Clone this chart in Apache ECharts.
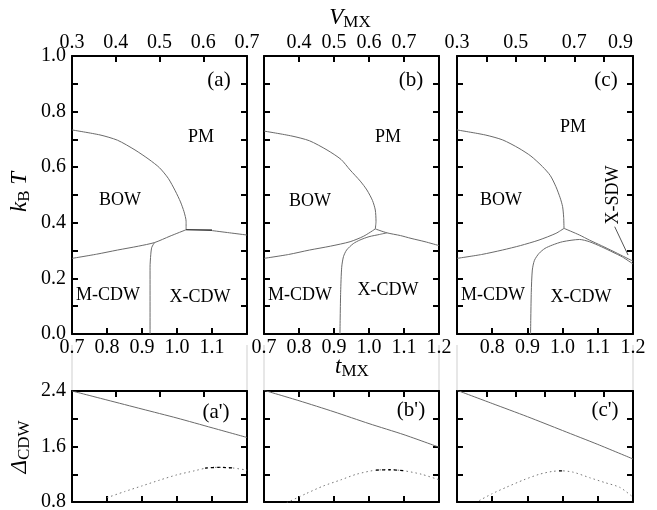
<!DOCTYPE html>
<html><head><meta charset="utf-8">
<script src="https://cdn.jsdelivr.net/npm/echarts@6/dist/echarts.min.js"></script>
<style>html,body{margin:0;padding:0;background:#fff}#c{width:657px;height:510px}</style>
</head><body><div id="c"></div>
<script>
// ---------- axis ranges / tick labels ----------
const tRange = [0.7, 1.2];
const vRanges = [[0.3, 0.7], [0.3, 0.8], [0.3, 0.9]];
const kTRange = [0.0, 1.0];
const gapRange = [0.8, 2.4];
const tLabelShow = [[7, 11], [7, 12], [8, 12]];        // t labels shown (x10)
const vLabelShow = [[3, 4, 5, 6, 7], [4, 5, 6, 7], [3, 5, 7, 9]];
const kTLabels = [0, 2, 4, 6, 8, 10];                   // x10
const gapLabels = [8, 16, 24];                          // x10

// ---------- panel (a) ----------
const a_bowPM = [[0.7,0.734],[0.78,0.716],[0.83,0.697],[0.88,0.662],[0.92,0.628],[0.95,0.598],[0.975,0.56],[0.995,0.515],[1.01,0.475],[1.02,0.44],[1.026,0.405],[1.026,0.375]];
const a_bowMCDW = [[0.7,0.272],[0.77,0.287],[0.83,0.302],[0.89,0.316],[0.936,0.329],[0.98,0.352],[1.026,0.375]];
const a_pmXFirst = [[1.026,0.375],[1.1,0.374]];
const a_pmX = [[1.1,0.372],[1.15,0.364],[1.2,0.356]];
const a_mX = [[0.936,0.329],[0.928,0.312],[0.925,0.285],[0.923,0.24],[0.923,0.0]];
// ---------- panel (b) ----------
const b_bowPM = [[0.7,0.730],[0.78,0.712],[0.83,0.695],[0.88,0.662],[0.92,0.628],[0.946,0.59],[0.975,0.55],[0.994,0.518],[1.01,0.48],[1.018,0.446],[1.02,0.405],[1.018,0.378]];
const b_bowMCDW = [[0.7,0.272],[0.77,0.286],[0.83,0.302],[0.89,0.316],[0.946,0.332],[0.985,0.352],[1.018,0.378]];
const b_pm = [[1.018,0.378],[1.051,0.364],[1.09,0.354],[1.12,0.344],[1.16,0.332],[1.2,0.318]];
const b_dome = [[0.917,0.0],[0.919,0.15],[0.922,0.24],[0.927,0.278],[0.936,0.302],[0.955,0.325],[0.974,0.338],[1.0,0.35],[1.03,0.358],[1.051,0.364]];
// ---------- panel (c) ----------
const c_bowPM = [[0.7,0.734],[0.78,0.716],[0.83,0.698],[0.876,0.668],[0.91,0.64],[0.943,0.602],[0.965,0.57],[0.981,0.53],[0.993,0.49],[1.0,0.458],[1.003,0.42],[1.004,0.38]];
const c_bowMCDW = [[0.7,0.272],[0.77,0.286],[0.829,0.302],[0.88,0.318],[0.933,0.338],[0.981,0.362],[1.004,0.38]];
const c_pm = [[1.004,0.38],[1.048,0.356],[1.076,0.338],[1.11,0.318],[1.143,0.298],[1.17,0.281],[1.2,0.262]];
const c_dome = [[0.909,0.0],[0.911,0.15],[0.914,0.23],[0.92,0.265],[0.933,0.29],[0.95,0.308],[0.971,0.32],[1.0,0.332],[1.048,0.34],[1.076,0.332],[1.11,0.314],[1.143,0.294],[1.17,0.277],[1.2,0.252]];
const c_pointer = [[1.148,0.386],[1.186,0.284]];
// ---------- lower panels: Delta_CDW ----------
const a_gap = [[0.7,2.4],[0.8,2.27],[0.9,2.14],[1.0,2.01],[1.1,1.87],[1.2,1.73]];
const a_dot = [[0.8,0.862],[0.85,0.95],[0.9,1.032],[0.95,1.115],[1.0,1.192],[1.05,1.25],[1.085,1.29],[1.12,1.30],[1.16,1.29],[1.2,1.26]];
const a_dash = [[1.08,1.288],[1.12,1.30],[1.165,1.288]];
const b_gap = [[0.7,2.41],[0.8,2.26],[0.9,2.10],[1.0,1.93],[1.1,1.77],[1.2,1.59]];
const b_dot = [[0.765,0.79],[0.82,0.92],[0.869,1.03],[0.92,1.12],[0.964,1.20],[1.021,1.26],[1.06,1.265],[1.1,1.25],[1.15,1.20],[1.2,1.12]];
const b_dash = [[1.02,1.26],[1.06,1.265],[1.1,1.25]];
const c_gap = [[0.7,2.41],[0.8,2.22],[0.9,2.03],[1.0,1.83],[1.1,1.63],[1.2,1.42]];
const c_dot = [[0.763,0.82],[0.8,0.92],[0.839,1.01],[0.89,1.12],[0.934,1.2],[0.97,1.24],[0.996,1.25],[1.03,1.23],[1.077,1.15],[1.12,1.08],[1.163,1.01],[1.2,0.87]];
const c_dash = [[0.99,1.25],[1.0,1.25]];

// ---------- layout ----------
const FONT = '"Liberation Serif","DejaVu Serif",serif';
const colLeft = [72, 264, 457];
const colWidth = [175, 175, 176];
const upperTop = 56, upperH = 278, lowerTop = 391, lowerH = 111;
const tickFont = 20;

const grids = [], xAxes = [], yAxes = [], series = [];
const lineAx = {show: true, onZero: false, lineStyle: {color: '#000', width: 2}};
const tickAx = {show: true, inside: true, length: 6, lineStyle: {color: '#000', width: 2}};
const r10 = v => Math.round(v * 10);

for (let row = 0; row < 2; row++) {
  for (let col = 0; col < 3; col++) {
    const g = row * 3 + col;
    grids.push({left: colLeft[col], width: colWidth[col], top: row === 0 ? upperTop : lowerTop,
      height: row === 0 ? upperH : lowerH, outerBoundsMode: 'none', containLabel: false});
    // bottom t axis
    xAxes.push({type: 'value', gridIndex: g, position: 'bottom', min: tRange[0], max: tRange[1], interval: 0.1,
      axisLine: lineAx, axisTick: tickAx, splitLine: {show: false},
      axisLabel: {show: row === 0, margin: 4, color: '#000', fontFamily: FONT, fontSize: tickFont,
        formatter: v => { const r = r10(v); return (r >= tLabelShow[col][0] && r <= tLabelShow[col][1]) ? v.toFixed(1) : ''; }}});
    // top V axis
    xAxes.push({type: 'value', gridIndex: g, position: 'top', min: vRanges[col][0], max: vRanges[col][1], interval: 0.1,
      axisLine: lineAx, axisTick: tickAx, splitLine: {show: false},
      axisLabel: {show: row === 0, margin: 3, color: '#000', fontFamily: FONT, fontSize: tickFont,
        alignMaxLabel: col === 2 ? 'right' : null,
        formatter: v => vLabelShow[col].indexOf(r10(v)) >= 0 ? v.toFixed(1) : ''}});
    const yr = row === 0 ? kTRange : gapRange;
    const yi = row === 0 ? 0.1 : 0.4;
    const yl = row === 0 ? kTLabels : gapLabels;
    yAxes.push({type: 'value', gridIndex: g, position: 'left', min: yr[0], max: yr[1], interval: yi,
      axisLine: lineAx, axisTick: tickAx, splitLine: {show: false},
      axisLabel: {show: col === 0, margin: 6, color: '#000', fontFamily: FONT, fontSize: tickFont,
        formatter: v => yl.indexOf(r10(v)) >= 0 ? v.toFixed(1) : ''}});
    yAxes.push({type: 'value', gridIndex: g, position: 'right', min: yr[0], max: yr[1], interval: yi,
      axisLine: lineAx, axisTick: tickAx, splitLine: {show: false}, axisLabel: {show: false}});
  }
}

function addLine(g, data, style) {
  series.push({type: 'line', xAxisIndex: 2 * g, yAxisIndex: 2 * g, data: data, showSymbol: false,
    smooth: style.smooth === undefined ? 0.25 : style.smooth, silent: true,
    lineStyle: {color: style.color || '#6a6a6a', width: style.width || 1, type: style.type || 'solid'}});
}
const grayL = {color: '#6a6a6a', width: 1};
addLine(0, a_bowPM, grayL); addLine(0, a_bowMCDW, grayL); addLine(0, a_pmX, grayL); addLine(0, a_mX, grayL);
addLine(0, a_pmXFirst, {color: '#000', width: 1.2, smooth: 0});
addLine(1, b_bowPM, grayL); addLine(1, b_bowMCDW, grayL); addLine(1, b_pm, grayL); addLine(1, b_dome, grayL);
addLine(2, c_bowPM, grayL); addLine(2, c_bowMCDW, grayL); addLine(2, c_pm, grayL); addLine(2, c_dome, grayL);
addLine(2, c_pointer, {color: '#555', width: 1, smooth: 0});
const dotL = {color: '#777', width: 1, type: [1.5, 3]};
const dashL = {color: '#000', width: 1.3, type: [3, 3]};
addLine(3, a_gap, grayL); addLine(3, a_dot, dotL); addLine(3, a_dash, dashL);
addLine(4, b_gap, grayL); addLine(4, b_dot, dotL); addLine(4, b_dash, dashL);
addLine(5, c_gap, grayL); addLine(5, c_dot, dotL); addLine(5, c_dash, dashL);

// ---------- text annotations ----------
function txt(x, y, s, size, extra) {
  return Object.assign({type: 'text', x: x, y: y, z: 10,
    style: {text: s, fill: '#000', font: size + 'px ' + FONT, align: 'center', verticalAlign: 'middle'}}, extra || {});
}
const regionSize = 18, panelSize = 21;
const graphics = [
  txt(219, 80, '(a)', panelSize), txt(411, 80, '(b)', panelSize), txt(606, 80, '(c)', panelSize),
  txt(201, 137, 'PM', regionSize), txt(388, 137, 'PM', regionSize), txt(573, 127, 'PM', regionSize),
  txt(120, 200, 'BOW', regionSize), txt(310, 201, 'BOW', regionSize), txt(501, 200, 'BOW', regionSize),
  txt(108, 295, 'M-CDW', regionSize), txt(300, 295, 'M-CDW', regionSize), txt(493, 295, 'M-CDW', regionSize),
  txt(200, 297, 'X-CDW', regionSize), txt(388, 290, 'X-CDW', regionSize), txt(581, 297, 'X-CDW', regionSize),
  txt(613, 195, 'X-SDW', regionSize, {rotation: Math.PI / 2}),
  txt(216, 412, "(a')", panelSize), txt(411, 410, "(b')", panelSize), txt(605, 410, "(c')", panelSize),
  {type: 'text', x: 350, y: 18, z: 10, style: {text: '{i|V}{s|MX}', align: 'center', verticalAlign: 'middle', fill: '#000',
    rich: {i: {fontFamily: FONT, fontStyle: 'italic', fontSize: 23, fill: '#000'},
           s: {fontFamily: FONT, fontSize: 17, fill: '#000', padding: [10, 0, 0, 0]}}}},
  {type: 'text', x: 352, y: 367, z: 10, style: {text: '{i|t}{s|MX}', align: 'center', verticalAlign: 'middle', fill: '#000',
    rich: {i: {fontFamily: FONT, fontStyle: 'italic', fontSize: 23, fill: '#000'},
           s: {fontFamily: FONT, fontSize: 17, fill: '#000', padding: [10, 0, 0, 0]}}}},
  {type: 'text', x: 20, y: 192, z: 10, rotation: Math.PI / 2, style: {text: '{i|k}{s|B}{i| T}', align: 'center', verticalAlign: 'middle', fill: '#000',
    rich: {i: {fontFamily: FONT, fontStyle: 'italic', fontSize: 23, fill: '#000'},
           s: {fontFamily: FONT, fontSize: 17, fill: '#000', padding: [10, 0, 0, 0]}}}},
  {type: 'text', x: 20, y: 447, z: 10, rotation: Math.PI / 2, style: {text: '{i|Δ}{s|CDW}', align: 'center', verticalAlign: 'middle', fill: '#000',
    rich: {i: {fontFamily: FONT, fontStyle: 'italic', fontSize: 23, fill: '#000'},
           s: {fontFamily: FONT, fontSize: 17, fill: '#000', padding: [10, 0, 0, 0]}}}}
];
// light gray frame lines linking upper and lower panels
[72, 247, 264, 439, 457, 633].forEach(x => {
  graphics.push({type: 'line', z: -1, shape: {x1: x, y1: 345, x2: x, y2: 390}, style: {stroke: '#cfcfcf', lineWidth: 1}});
});

const chart = echarts.init(document.getElementById('c'), null, {renderer: 'canvas'});
chart.setOption({
  animation: false,
  backgroundColor: '#fff',
  grid: grids, xAxis: xAxes, yAxis: yAxes, series: series, graphic: graphics
});
</script></body></html>
